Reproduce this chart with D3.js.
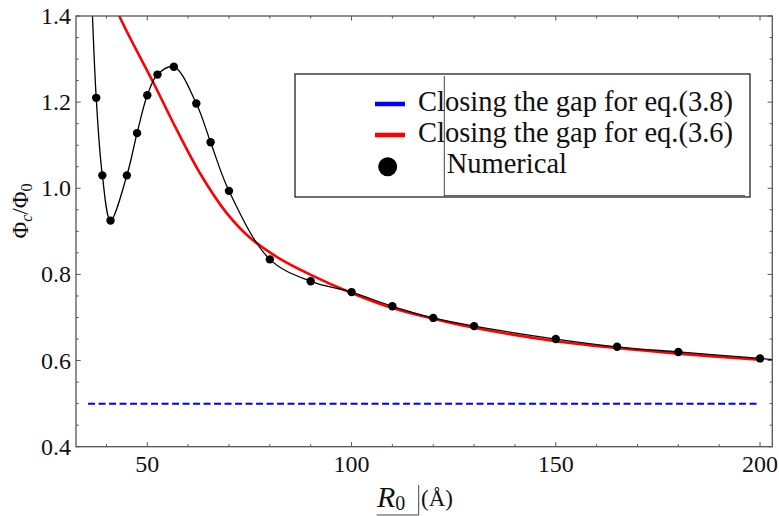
<!DOCTYPE html>
<html>
<head>
<meta charset="utf-8">
<script src="https://cdn.jsdelivr.net/npm/d3@7/dist/d3.min.js"></script>
<style>
  html, body { margin: 0; padding: 0; background: #fff; }
  svg { display: block; font-family: "Liberation Serif", "DejaVu Serif", "Times New Roman", serif; }
</style>
</head>
<body>
<svg id="chart" width="779" height="516"></svg>
<script>
// Numerical solution: critical flux vs. radius R0 (Å)
const numericalR   = [37.5, 39, 41, 45, 47.5, 50, 52.5, 56.5, 62, 65.5, 70, 80, 90, 100, 110, 120, 130, 150, 165, 180, 200];
const numericalPhi = [1.21, 1.03, 0.925, 1.03, 1.128, 1.216, 1.264, 1.282, 1.197, 1.107, 0.994, 0.835, 0.784, 0.759, 0.726, 0.699, 0.680, 0.650, 0.632, 0.620, 0.605];

// Interpolating curve also runs past the frame on both sides
const curveLeadR = [36.2], curveLeadPhi = [1.50];
const curveTailR = [203.5], curveTailPhi = [0.602];

// Closing the gap for eq.(3.6)
const gap36R   = [38, 43.15, 51.5, 57.2, 62.9, 69.4, 75.3, 82.5, 90, 100, 110, 120, 130, 150, 165, 180, 200];
const gap36Phi = [1.52, 1.40, 1.245, 1.136, 1.035, 0.943, 0.884, 0.836, 0.799, 0.757, 0.722, 0.697, 0.676, 0.645, 0.629, 0.616, 0.602];

// Closing the gap for eq.(3.8)
const gap38R   = [35.5, 200];
const gap38Phi = [0.5, 0.5];

// Axis ticks
const xMajorTicks = [50, 100, 150, 200];
const xMinorTicks = [40, 60, 70, 80, 90, 110, 120, 130, 140, 160, 170, 180, 190];
const yMajorTicks = [0.4, 0.6, 0.8, 1.0, 1.2, 1.4];
const yMinorTicks = [0.45, 0.5, 0.55, 0.65, 0.7, 0.75, 0.85, 0.9, 0.95, 1.05, 1.1, 1.15, 1.25, 1.3, 1.35];

const legendLabels = ["Closing the gap for eq.(3.8)", "Closing the gap for eq.(3.6)", "Numerical"];

const svg = d3.select("#chart");
const plotLeft = 76, plotRight = 772.3, plotTop = 16, plotBottom = 446.7;

const x = d3.scaleLinear().domain([32.55, 203]).range([plotLeft, plotRight]);
const y = d3.scaleLinear().domain([0.4, 1.4]).range([plotBottom, plotTop]);

svg.append("defs").append("clipPath").attr("id", "plotClip")
  .append("rect").attr("x", plotLeft).attr("y", plotTop)
  .attr("width", plotRight - plotLeft).attr("height", plotBottom - plotTop);

const plot = svg.append("g").attr("clip-path", "url(#plotClip)");

const zip = (a, b) => a.map((v, i) => [v, b[i]]);
const straight = d3.line().x(d => x(d[0])).y(d => y(d[1]));
const smooth = d3.line().x(d => x(d[0])).y(d => y(d[1])).curve(d3.curveCatmullRom.alpha(0.5));

// eq.(3.8): dashed blue
plot.append("path")
  .datum(zip(gap38R, gap38Phi))
  .attr("d", straight)
  .attr("fill", "none").attr("stroke", "#0000ff")
  .attr("stroke-width", 2).attr("stroke-dasharray", "7,3.5");

// eq.(3.6): red
plot.append("path")
  .datum(zip(gap36R, gap36Phi))
  .attr("d", smooth)
  .attr("fill", "none").attr("stroke", "#ff0000")
  .attr("stroke-width", 2.6);

// Numerical: interpolating curve and points
const numPts = zip(numericalR, numericalPhi);
const curvePts = zip(curveLeadR, curveLeadPhi).concat(numPts, zip(curveTailR, curveTailPhi));
plot.append("path")
  .datum(curvePts)
  .attr("d", smooth)
  .attr("fill", "none").attr("stroke", "#000")
  .attr("stroke-width", 1.3);

plot.selectAll("circle.num").data(numPts).join("circle")
  .attr("class", "num")
  .attr("cx", d => x(d[0])).attr("cy", d => y(d[1]))
  .attr("r", 4.2).attr("fill", "#000");

// Frame with inward ticks on all four sides
const frameColor = "#555";
const axes = svg.append("g");
axes.append("rect").attr("x", plotLeft).attr("y", plotTop)
  .attr("width", plotRight - plotLeft).attr("height", plotBottom - plotTop)
  .attr("fill", "none").attr("stroke", frameColor).attr("stroke-width", 1.3);

function xTicks(vals, len) {
  vals.forEach(v => {
    axes.append("line").attr("x1", x(v)).attr("x2", x(v)).attr("y1", plotBottom).attr("y2", plotBottom - len)
      .attr("stroke", frameColor).attr("stroke-width", 1);
    axes.append("line").attr("x1", x(v)).attr("x2", x(v)).attr("y1", plotTop).attr("y2", plotTop + len)
      .attr("stroke", frameColor).attr("stroke-width", 1);
  });
}
function yTicks(vals, len) {
  vals.forEach(v => {
    axes.append("line").attr("x1", plotLeft).attr("x2", plotLeft + len).attr("y1", y(v)).attr("y2", y(v))
      .attr("stroke", frameColor).attr("stroke-width", 1);
    axes.append("line").attr("x1", plotRight).attr("x2", plotRight - len).attr("y1", y(v)).attr("y2", y(v))
      .attr("stroke", frameColor).attr("stroke-width", 1);
  });
}
xTicks(xMajorTicks, 4.5); xTicks(xMinorTicks, 2.6);
yTicks(yMajorTicks, 4.7); yTicks(yMinorTicks, 2.7);

axes.selectAll("text.xt").data(xMajorTicks).join("text")
  .attr("class", "xt")
  .attr("x", d => x(d)).attr("y", 472)
  .attr("text-anchor", "middle").attr("font-size", 24).attr("fill", "#111")
  .text(d => d);

axes.selectAll("text.yt").data(yMajorTicks).join("text")
  .attr("class", "yt")
  .attr("x", 71).attr("y", d => y(d) + 8)
  .attr("text-anchor", "end").attr("font-size", 24).attr("fill", "#111")
  .text(d => d.toFixed(1));

// Y axis title: Φc/Φ0
const yTitle = svg.append("text")
  .attr("transform", "translate(28,211) rotate(-90)")
  .attr("text-anchor", "middle").attr("font-size", 23).attr("fill", "#111");
yTitle.append("tspan").text("Φ");
yTitle.append("tspan").attr("font-style", "italic").attr("font-size", 16).attr("dy", 4).text("c");
yTitle.append("tspan").attr("dy", -4).text("/Φ");
yTitle.append("tspan").attr("font-size", 16).attr("dy", 4).text("0");

// X axis title: R0 (Å)
const xTitle = svg.append("text").attr("x", 377).attr("y", 507).attr("fill", "#111");
xTitle.append("tspan").attr("font-style", "italic").attr("font-size", 30).text("R");
xTitle.append("tspan").attr("font-size", 20).attr("dy", 3).text("0");
svg.append("text").attr("x", 421).attr("y", 506).attr("font-size", 23).attr("fill", "#111").text("(Å)");
svg.append("line").attr("x1", 376.7).attr("x2", 418.7).attr("y1", 515).attr("y2", 515)
  .attr("stroke", "#444").attr("stroke-width", 1);
svg.append("line").attr("x1", 418.7).attr("x2", 418.7).attr("y1", 485).attr("y2", 515)
  .attr("stroke", "#444").attr("stroke-width", 1);

// Legend
const lg = svg.append("g");
lg.append("rect").attr("x", 295).attr("y", 74).attr("width", 455).attr("height", 123)
  .attr("fill", "#fff").attr("stroke", "#222").attr("stroke-width", 1.3);
lg.append("line").attr("x1", 444.3).attr("x2", 444.3).attr("y1", 76).attr("y2", 197)
  .attr("stroke", "#444").attr("stroke-width", 1);
lg.append("line").attr("x1", 444.3).attr("x2", 745).attr("y1", 195.7).attr("y2", 195.7)
  .attr("stroke", "#444").attr("stroke-width", 1);

lg.append("line").attr("x1", 375).attr("x2", 405).attr("y1", 104).attr("y2", 104)
  .attr("stroke", "#0000ff").attr("stroke-width", 4.5);
lg.append("line").attr("x1", 375).attr("x2", 405).attr("y1", 135).attr("y2", 135)
  .attr("stroke", "#ff0000").attr("stroke-width", 4.5);
lg.append("circle").attr("cx", 387.7).attr("cy", 166.7).attr("r", 9.5).attr("fill", "#000");

lg.append("text").attr("x", 418).attr("y", 111).attr("font-size", 28.5).attr("fill", "#111").text(legendLabels[0]);
lg.append("text").attr("x", 418).attr("y", 142).attr("font-size", 28.5).attr("fill", "#111").text(legendLabels[1]);
lg.append("text").attr("x", 446.7).attr("y", 173).attr("font-size", 28.5).attr("fill", "#111").text(legendLabels[2]);
</script>
</body>
</html>
